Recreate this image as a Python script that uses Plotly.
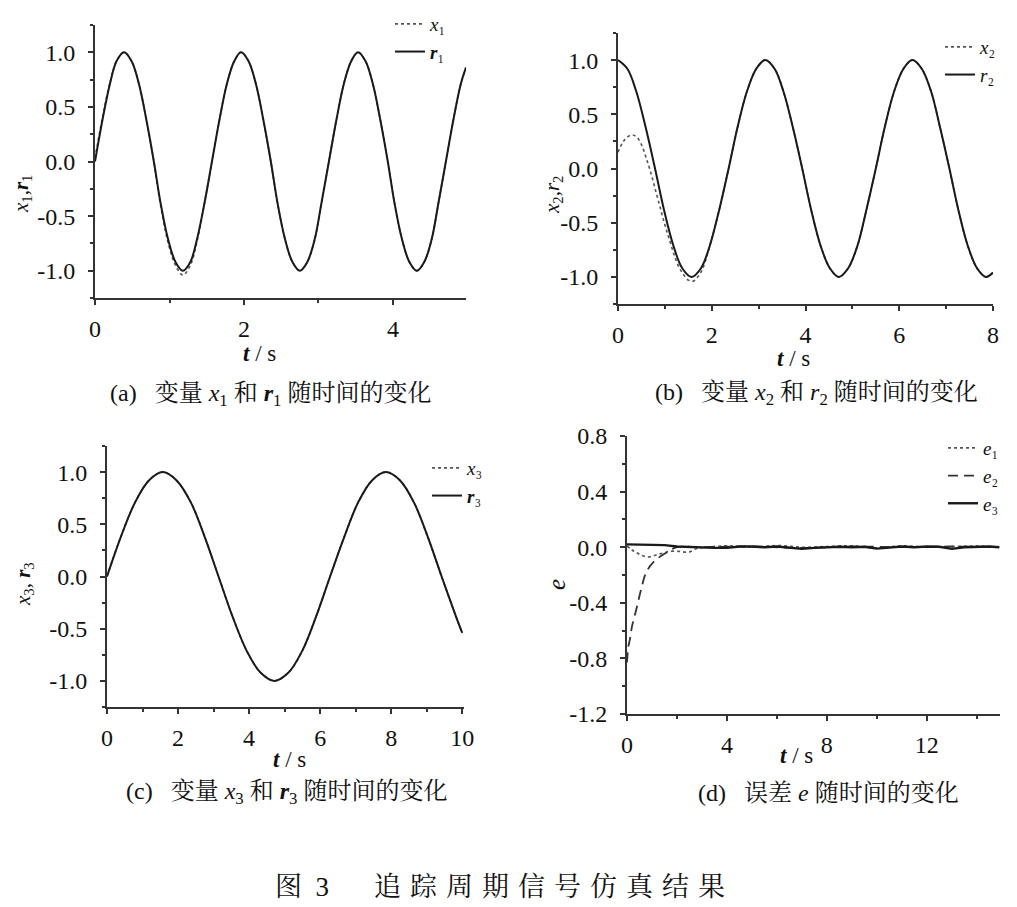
import plotly.graph_objects as go

# ---- data ----
# (a) x1, r1
t_a = [0, 0.10, 0.20, 0.29, 0.39, 0.49, 0.59, 0.69, 0.79, 0.88, 0.98, 1.08, 1.18,
       1.28, 1.37, 1.47, 1.57, 1.67, 1.77, 1.87, 1.96, 2.06, 2.16, 2.26, 2.36, 2.45,
       2.55, 2.65, 2.75, 2.85, 2.95, 3.04, 3.14, 3.24, 3.34, 3.44, 3.53, 3.63, 3.73,
       3.83, 3.93, 4.02, 4.12, 4.22, 4.32, 4.42, 4.52, 4.61, 4.71, 4.81, 4.91, 4.98]
r1 = [0, 0.38, 0.71, 0.92, 1.0, 0.92, 0.71, 0.38, 0, -0.38, -0.71, -0.92, -1.0,
      -0.92, -0.71, -0.38, 0, 0.38, 0.71, 0.92, 1.0, 0.92, 0.71, 0.38, 0, -0.38,
      -0.71, -0.92, -1.0, -0.92, -0.71, -0.38, 0, 0.38, 0.71, 0.92, 1.0, 0.92, 0.71,
      0.38, 0, -0.38, -0.71, -0.92, -1.0, -0.92, -0.71, -0.38, 0, 0.38, 0.71, 0.86]
x1 = [0.03, 0.40, 0.72, 0.92, 1.0, 0.92, 0.71, 0.38, 0, -0.40, -0.74, -0.95, -1.04,
      -0.95, -0.73, -0.38, 0, 0.38, 0.71, 0.92, 1.0, 0.92, 0.71, 0.38, 0, -0.38,
      -0.71, -0.92, -1.0, -0.92, -0.71, -0.38, 0, 0.38, 0.71, 0.92, 1.0, 0.92, 0.71,
      0.38, 0, -0.38, -0.71, -0.92, -1.0, -0.92, -0.71, -0.38, 0, 0.38, 0.71, 0.86]

# (b) x2, r2
t_b = [0, 0.20, 0.39, 0.59, 0.79, 0.98, 1.18, 1.37, 1.57, 1.77, 1.96, 2.16, 2.36,
       2.55, 2.75, 2.95, 3.14, 3.34, 3.53, 3.73, 3.93, 4.12, 4.32, 4.52, 4.71, 4.91,
       5.11, 5.30, 5.50, 5.69, 5.89, 6.09, 6.28, 6.48, 6.68, 6.87, 7.07, 7.26, 7.46,
       7.66, 7.85, 8.0]
r2 = [1.0, 0.92, 0.71, 0.38, 0, -0.38, -0.71, -0.92, -1.0, -0.92, -0.71, -0.38, 0,
      0.38, 0.71, 0.92, 1.0, 0.92, 0.71, 0.38, 0, -0.38, -0.71, -0.92, -1.0, -0.92,
      -0.71, -0.38, 0, 0.38, 0.71, 0.92, 1.0, 0.92, 0.71, 0.38, 0, -0.38, -0.71,
      -0.92, -1.0, -0.96]
t_x2 = [0, 0.1, 0.2, 0.3, 0.4, 0.5, 0.6, 0.7, 0.8, 0.9, 1.0, 1.1, 1.2, 1.3, 1.4, 1.5,
        1.6, 1.7, 1.8, 1.96, 2.16, 2.36, 2.55, 2.75, 2.95, 3.14, 3.34, 3.53, 3.73,
        3.93, 4.12, 4.32, 4.52, 4.71, 4.91, 5.11, 5.30, 5.50, 5.69, 5.89, 6.09, 6.28,
        6.48, 6.68, 6.87, 7.07, 7.26, 7.46, 7.66, 7.85, 8.0]
x2 = [0.15, 0.24, 0.29, 0.31, 0.29, 0.22, 0.1, -0.04, -0.2, -0.36, -0.52, -0.66,
      -0.8, -0.91, -0.98, -1.03, -1.04, -1.0, -0.93, -0.71, -0.38, 0, 0.38, 0.71,
      0.92, 1.0, 0.92, 0.71, 0.38, 0, -0.38, -0.71, -0.92, -1.0, -0.92, -0.71, -0.38,
      0, 0.38, 0.71, 0.92, 1.0, 0.92, 0.71, 0.38, 0, -0.38, -0.71, -0.92, -1.0, -0.96]

# (c) x3, r3
t_c = [0, 0.39, 0.79, 1.18, 1.57, 1.96, 2.36, 2.75, 3.14, 3.53, 3.93, 4.32, 4.71,
       5.11, 5.50, 5.89, 6.28, 6.68, 7.07, 7.46, 7.85, 8.25, 8.64, 9.03, 9.42, 9.82, 10.0]
r3 = [0, 0.38, 0.71, 0.92, 1.0, 0.92, 0.71, 0.38, 0, -0.38, -0.71, -0.92, -1.0,
      -0.92, -0.71, -0.38, 0, 0.38, 0.71, 0.92, 1.0, 0.92, 0.71, 0.38, 0, -0.38, -0.54]
x3 = [0, 0.38, 0.71, 0.92, 1.0, 0.92, 0.71, 0.38, 0, -0.38, -0.71, -0.92, -1.0,
      -0.92, -0.71, -0.38, 0, 0.38, 0.71, 0.92, 1.0, 0.92, 0.71, 0.38, 0, -0.38, -0.54]

# (d) errors e1, e2, e3
t_e1 = [0, 0.2, 0.4, 0.6, 0.87, 1.1, 1.27, 1.5, 1.67, 2.07, 2.47, 2.8, 3.2, 4, 5, 6,
        7, 8, 9, 10, 11, 12, 13, 14, 14.9]
e1 = [0.01, -0.02, -0.04, -0.06, -0.07, -0.06, -0.05, -0.04, -0.03, -0.03, -0.035,
      -0.01, 0.0, 0.01, 0.0, 0.012, 0.0, 0.005, 0.01, -0.005, 0.01, 0.0, 0.005, 0.008, 0.0]
t_e2 = [0, 0.05, 0.12, 0.2, 0.37, 0.57, 0.77, 1.1, 1.57, 2.0, 3, 5, 7, 9, 11, 13, 14.9]
e2 = [-0.83, -0.72, -0.66, -0.57, -0.45, -0.3, -0.18, -0.1, -0.04, 0.0, 0.0, 0.005,
      -0.005, 0.005, 0.0, 0.005, 0.0]
t_e3 = [0, 0.5, 1.0, 1.5, 2.0, 2.5, 3, 3.5, 4, 4.5, 5, 5.5, 6, 6.5, 7, 7.5, 8, 8.5,
        9, 9.5, 10, 10.5, 11, 11.5, 12, 12.5, 13, 13.5, 14, 14.5, 14.9]
e3 = [0.02, 0.02, 0.02, 0.015, 0.005, 0.0, 0.0, -0.005, -0.005, 0.005, 0.005, 0.0,
      0.005, -0.005, -0.012, -0.005, 0.0, 0.003, 0.0, 0.003, -0.01, -0.003, 0.005,
      0.0, 0.005, 0.003, -0.012, 0.0, 0.005, 0.005, 0.0]

# tick labels
y_ticks = [-1.0, -0.5, 0.0, 0.5, 1.0]
y_labels = ["-1.0", "-0.5", "0.0", "0.5", "1.0"]
ye_ticks = [-1.2, -0.8, -0.4, 0.0, 0.4, 0.8]
ye_labels = ["-1.2", "-0.8", "-0.4", "0.0", "0.4", "0.8"]
xa_ticks = [0, 2, 4]
xb_ticks = [0, 2, 4, 6, 8]
xc_ticks = [0, 2, 4, 6, 8, 10]
xd_ticks = [0, 4, 8, 12]

SERIF = "Liberation Serif, Times New Roman, serif"
LEG_FONT = "Liberation Serif, DejaVu Serif, serif"
CJK = "Liberation Serif, Noto Serif CJK SC, Noto Sans CJK SC, serif"
DARK = "#1a1a1a"
GREY = "#555555"
# the page body adds an 8px margin, so the figure is a bit smaller and
# positions measured on the screenshot are shifted by that offset
OFF = 8
W, H = 1017 - OFF, 907 - OFF


def px(x):
    return (x - OFF) / W


def py(y):
    return 1 - (y - OFF) / H


def axis(domain, rng, tickvals, ticktext, minor_dtick, anchor, standoff):
    return dict(domain=domain, range=rng, anchor=anchor, showline=True, automargin=False,
                linecolor="#333", linewidth=2, ticks="outside", ticklen=5,
                tickwidth=1.5, tickcolor="#333", showgrid=False, zeroline=False,
                tickvals=tickvals, ticktext=ticktext, ticklabelstandoff=standoff,
                tickfont=dict(family=SERIF, size=24, color="#111"),
                minor=dict(tickmode="linear", tick0=0, dtick=minor_dtick,
                           ticks="outside", ticklen=3, tickcolor="#333",
                           showgrid=False))


def line_x(x, y, name, xa, ya, leg):
    return go.Scatter(x=x, y=y, name=name, xaxis=xa, yaxis=ya, legend=leg,
                      mode="lines", line=dict(color=GREY, width=1.6, dash="dot",
                                              shape="spline"))


def line_r(x, y, name, xa, ya, leg):
    return go.Scatter(x=x, y=y, name=name, xaxis=xa, yaxis=ya, legend=leg,
                      mode="lines", line=dict(color=DARK, width=2, shape="spline"))


fig = go.Figure()
fig.add_trace(line_x(t_a, x1, "<i>x</i>₁", "x", "y", "legend"))
fig.add_trace(line_r(t_a, r1, "<b><i>r</i></b>₁", "x", "y", "legend"))
fig.add_trace(line_x(t_x2, x2, "<i>x</i>₂", "x2", "y2", "legend2"))
fig.add_trace(line_r(t_b, r2, "<i>r</i>₂", "x2", "y2", "legend2"))
fig.add_trace(line_x(t_c, x3, "<i>x</i>₃", "x3", "y3", "legend3"))
fig.add_trace(line_r(t_c, r3, "<b><i>r</i></b>₃", "x3", "y3", "legend3"))
fig.add_trace(go.Scatter(x=t_e1, y=e1, name="<i>e</i>₁", xaxis="x4", yaxis="y4",
                         legend="legend4", mode="lines",
                         line=dict(color=GREY, width=1.6, dash="dot", shape="spline")))
fig.add_trace(go.Scatter(x=t_e2, y=e2, name="<i>e</i>₂", xaxis="x4", yaxis="y4",
                         legend="legend4", mode="lines",
                         line=dict(color="#333", width=1.8, dash="10px,6px", shape="spline")))
fig.add_trace(go.Scatter(x=t_e3, y=e3, name="<i>e</i>₃", xaxis="x4", yaxis="y4",
                         legend="legend4", mode="lines",
                         line=dict(color=DARK, width=2.4)))

leg_common = dict(bgcolor="rgba(0,0,0,0)", borderwidth=0, xanchor="right",
                  yanchor="top", tracegroupgap=0, itemwidth=30,
                  font=dict(family=LEG_FONT, size=19, color="#111"))

fig.update_layout(
    width=W, height=H, autosize=False,
    margin=dict(l=0, r=0, t=0, b=0, autoexpand=False),
    paper_bgcolor="white", plot_bgcolor="white",
    xaxis=axis([px(95), px(466)], [0, 4.98], xa_ticks, [str(v) for v in xa_ticks], 1, "y", 3),
    yaxis=axis([py(298), py(25)], [-1.25, 1.25], y_ticks, y_labels, 0.25, "x", 8),
    xaxis2=axis([px(618), px(993)], [0, 8.0], xb_ticks, [str(v) for v in xb_ticks], 1, "y2", 3),
    yaxis2=axis([py(304), py(33)], [-1.25, 1.25], y_ticks, y_labels, 0.25, "x2", 8),
    xaxis3=axis([px(107), px(464)], [0, 10.05], xc_ticks, [str(v) for v in xc_ticks], 1, "y3", 3),
    yaxis3=axis([py(707), py(446)], [-1.25, 1.25], y_ticks, y_labels, 0.25, "x3", 8),
    xaxis4=axis([px(627), px(1000)], [0, 14.93], xd_ticks, [str(v) for v in xd_ticks], 2, "y4", 3),
    yaxis4=axis([py(714), py(436)], [-1.2, 0.8], ye_ticks, ye_labels, 0.2, "x4", 8),
    legend=dict(x=px(452), y=py(5), **leg_common),
    legend2=dict(x=px(1002), y=py(28), **leg_common),
    legend3=dict(x=px(489), y=py(449), **leg_common),
    legend4=dict(x=px(1004), y=py(429), **leg_common),
)

# axis titles, sub-captions and figure caption
texts = [
    (259, 353, "<b><i>t</i></b> / s", 23, 0),
    (22, 194, "<i>x</i><sub>1</sub>,<b><i>r</i></b><sub>1</sub>", 21, -90),
    (793, 358, "<b><i>t</i></b> / s", 23, 0),
    (553, 195, "<i>x</i><sub>2</sub>,<i>r</i><sub>2</sub>", 21, -90),
    (289, 759, "<b><i>t</i></b> / s", 23, 0),
    (24, 584, "<i>x</i><sub>3</sub>, <b><i>r</i></b><sub>3</sub>", 21, -90),
    (796, 755, "<b><i>t</i></b> / s", 23, 0),
    (556, 585, "<i>e</i>", 25, -90),
    (270, 395, "(a)\u2002 变量 <i>x</i><sub>1</sub> 和 <b><i>r</i></b><sub>1</sub> 随时间的变化", 24, 0),
    (816, 394, "(b)\u2002 变量 <i>x</i><sub>2</sub> 和 <i>r</i><sub>2</sub> 随时间的变化", 24, 0),
    (286, 793, "(c)\u2002 变量 <i>x</i><sub>3</sub> 和 <b><i>r</i></b><sub>3</sub> 随时间的变化", 24, 0),
    (828, 793, "(d)\u2002 误差 <i>e</i> 随时间的变化", 24, 0),
    (500, 887, "图\u20023\u2003\u2002\u2006追\u2004踪\u2004周\u2004期\u2004信\u2004号\u2004仿\u2004真\u2004结\u2004果", 27, 0),
]
for x, y, s, size, ang in texts:
    fig.add_annotation(x=px(x), y=py(y), xref="paper", yref="paper", text=s,
                       showarrow=False, textangle=ang, xanchor="center", yanchor="middle",
                       font=dict(family=CJK, size=size, color="#111"))

fig.write_html("out.html")
